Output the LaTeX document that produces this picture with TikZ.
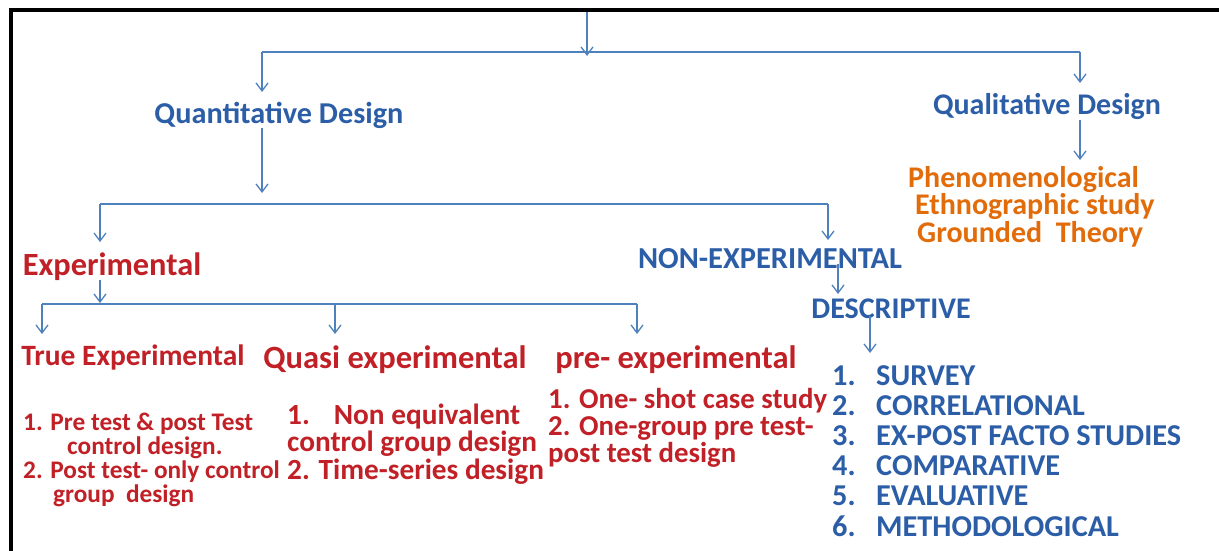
\documentclass[tikz,border=0pt]{standalone}
\usepackage{fontspec}
\setmainfont{Carlito}
\usetikzlibrary{arrows.meta}
\definecolor{conn}{RGB}{79,129,189}
\definecolor{tblue}{RGB}{44,94,168}
\definecolor{tred}{RGB}{192,32,38}
\definecolor{torange}{RGB}{226,107,10}
\newcommand{\fs}[2]{\bfseries\fontsize{#1}{#2}\selectfont}
\begin{document}
\begin{tikzpicture}[x=1pt,y=-1pt,
  line/.style={draw=conn,line width=1.5pt},
  arr/.style={line,-{Straight Barb[length=8pt,width=12pt,line width=1.3pt]}},
  lbl/.style={inner sep=0pt,anchor=base},
  blue/.style={lbl,text=tblue},
  red/.style={lbl,text=tred},
  orange/.style={lbl,text=torange}]
\useasboundingbox (0,0) rectangle (1219,551);
\fill[white] (0,0) rectangle (1219,551);
\draw[line width=4.5pt] (1219,10) -- (11,10) -- (11,551);

% text nodes (multi-line nodes: base anchor = last line's baseline)
\node[blue,font=\fs{30.3}{30}] (quant) at (279,123) {Quantitative Design};
\node[blue,font=\fs{30}{30}] (qual) at (1047,114) {Qualitative Design};
\node[orange,font=\fs{30}{25.5},align=left,anchor=base west] (qualitems) at (908,242)
  {Phenomenological\\\hspace*{7pt}Ethnographic study\\\hspace*{9pt}Grounded\ \ Theory};
\node[red,font=\fs{32.4}{30}] (exp) at (112,275) {Experimental};
\node[blue,font=\fs{30.5}{30}] (nonexp) at (770,268) {NON-EXPERIMENTAL};
\node[blue,font=\fs{30}{30}] (desc) at (891,318) {DESCRIPTIVE};
\node[red,font=\fs{29.5}{30}] (true) at (133,365) {True Experimental};
\node[red,font=\fs{32.5}{30}] (quasi) at (395,368) {Quasi experimental};
\node[red,font=\fs{32.5}{30}] (pre) at (676,368) {pre- experimental};
\node[red,font=\fs{25.3}{24},align=left,anchor=base west] (trueitems) at (23,502)
  {1. Pre test \& post Test\\\hspace*{44pt}control design.\\2. Post test- only control\\\hspace*{30pt}group\ \ design};
\node[red,font=\fs{29.3}{27.5},align=left,anchor=base west] (quasiitems) at (287,479)
  {1.\hspace*{24pt}Non equivalent\\control group design\\2. Time-series design};
\node[red,font=\fs{28.8}{27},align=left,anchor=base west] (preitems) at (548,462)
  {1. One- shot case study\\2. One-group pre test-\\post test design};
\node[blue,font=\fs{30.3}{30.2},align=left,anchor=base west] (list) at (832,536)
  {\makebox[44pt][l]{1.}SURVEY\\\makebox[44pt][l]{2.}CORRELATIONAL\\\makebox[44pt][l]{3.}EX-POST FACTO STUDIES\\\makebox[44pt][l]{4.}COMPARATIVE\\\makebox[44pt][l]{5.}EVALUATIVE\\\makebox[44pt][l]{6.}METHODOLOGICAL};

% junction coordinates
\coordinate (top) at (587,12);
\coordinate (topend) at (587,56);
\coordinate (b1L) at (262,52);
\coordinate (b1R) at (1080,52);
\coordinate (q0) at (262,128);
\coordinate (q1) at (262,193);
\coordinate (b2L) at (100,204);
\coordinate (b2R) at (828,204);
\coordinate (e0) at (100,280);
\coordinate (e1) at (100,303);
\coordinate (b3L) at (42,304);
\coordinate (b3M) at (335,304);
\coordinate (b3R) at (637,304);
\coordinate (n0) at (838,264);
\coordinate (d0) at (870,316);
\coordinate (l0) at (1080,120);
\coordinate (l1) at (1080,160);

% connectors
\draw[arr] (top) -- (topend);
\draw[line] (b1L) -- (b1R);
\draw[arr] (b1L) -- (b1L |- 0,92);
\draw[arr] (b1R) -- (b1R |- 0,83);
\draw[arr] (q0) -- (q1);
\draw[line] (b2L) -- (b2R);
\draw[arr] (b2L) -- (b2L |- 0,242);
\draw[arr] (b2R) -- (b2R |- 0,240);
\draw[arr] (e0) -- (e1);
\draw[line] (b3L) -- (b3R);
\draw[arr] (b3L) -- (b3L |- 0,334);
\draw[arr] (b3M) -- (b3M |- 0,334);
\draw[arr] (b3R) -- (b3R |- 0,334);
\draw[arr] (n0) -- (n0 |- 0,294);
\draw[arr] (d0) -- (d0 |- 0,353);
\draw[arr] (l0) -- (l1);
\end{tikzpicture}
\end{document}
